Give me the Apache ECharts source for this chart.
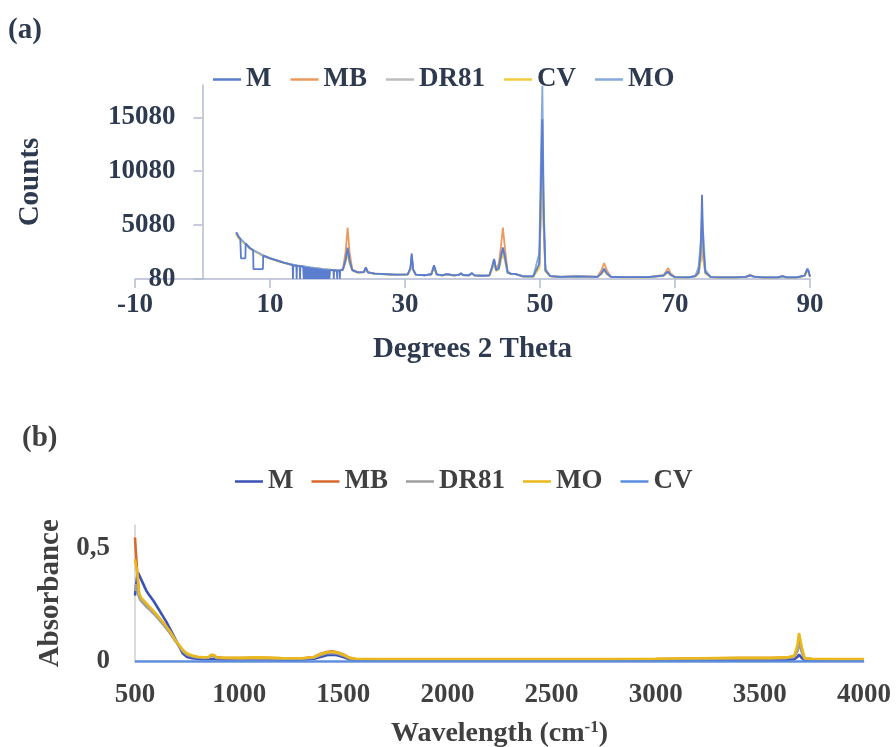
<!DOCTYPE html>
<html><head><meta charset="utf-8">
<script src="https://cdn.jsdelivr.net/npm/echarts@6/dist/echarts.min.js"></script>
<style>html,body{margin:0;padding:0;background:#fff}#c{width:896px;height:747px}</style>
</head><body><div id="c"></div>
<script>
// ---------- (a) XRD ----------
const xrdNames = ['M', 'MB', 'DR81', 'CV', 'MO'];
const theta = [5,5.3,5.6,6.45,7,7.5,9,10,11,12,13,14,15,16,17,18,19,20,
  20.8,21.2,21.5,21.8,22.2,23,23.9,24.2,24.5,25.5,
  27,28.5,30.4,30.8,31,31.2,31.6,33,33.9,34.3,
  34.7,35.5,36.2,37.2,38,38.3,38.6,39.5,39.9,40.3,
  41.5,42.5,42.9,43.2,43.5,43.9,44.2,44.5,44.8,45.2,
  45.7,46.3,47.5,49,49.9,50.15,50.35,50.55,50.8,51.5,
  53,55.5,57,58.5,59.1,59.5,59.9,60.5,62,64,
  66,68.3,68.7,69,69.3,70,72,73,73.5,73.8,
  74,74.2,74.5,75.3,77,79,80.5,81.1,81.7,83,
  85.3,85.9,86.5,88,89.2,89.6,89.8,90];
const countsM = [4400,4050,3800,3300,2950,2750,2250,2000,1800,1600,1440,1320,1230,1140,1060,980,920,860,
  950,1900,3000,1800,900,700,720,1150,700,580,
  530,480,500,1100,2450,1000,480,430,520,1350,
  500,420,540,420,470,620,450,430,630,420,
  380,420,1200,1950,900,1100,2200,3000,2200,700,
  550,560,330,320,1500,9000,14900,6000,900,350,
  280,320,300,280,600,1000,600,290,260,250,
  250,400,650,740,500,250,240,350,700,2500,
  7900,3000,700,260,240,240,280,420,300,230,
  240,340,240,230,400,1000,800,300];
const countsMB = [4350,4000,3780,3280,2960,2770,2270,2020,1820,1620,1460,1340,1250,1160,1080,1000,940,880,
  1000,2600,4850,2500,950,720,730,1100,720,590,
  540,490,500,1000,2200,950,490,440,520,1250,
  510,430,530,430,470,580,450,440,600,430,
  390,430,1100,1800,1000,1500,3000,4850,3000,800,
  560,560,340,330,1300,7000,11000,5000,800,360,
  290,330,310,290,900,1560,900,300,270,260,
  260,450,800,1100,650,260,250,340,600,1800,
  2800,1800,600,270,250,250,300,460,320,240,
  250,360,250,240,380,900,700,300];
const countsDR81 = [4300,3950,3750,3250,2920,2720,2230,1980,1780,1590,1430,1310,1220,1130,1050,970,910,850,
  930,1700,2600,1600,880,690,710,1000,690,570,
  520,470,490,950,2000,900,470,420,510,1150,
  490,410,520,410,460,560,440,420,580,410,
  370,410,1000,1700,850,1000,1900,2600,1900,680,
  540,540,320,310,1200,7500,12000,5000,800,340,
  270,310,290,270,560,900,560,280,250,240,
  240,380,600,680,480,240,230,330,600,2000,
  6000,2500,650,250,230,230,270,400,290,220,
  230,320,230,220,380,900,700,290];
const countsCV = [4250,3900,3700,3220,2900,2700,2210,1960,1760,1570,1420,1300,1210,1120,1040,960,900,840,
  920,1600,2400,1500,860,680,700,950,680,560,
  510,460,480,900,1900,880,460,410,500,1100,
  480,400,510,400,450,540,430,410,560,400,
  360,400,950,1600,820,950,1800,2400,1800,660,
  530,530,310,300,1100,7000,11500,4800,780,330,
  260,300,280,260,540,850,540,270,240,230,
  230,370,580,650,460,230,220,320,580,1900,
  5500,2300,620,240,220,220,260,390,280,210,
  220,310,220,210,370,850,680,280];
const countsMO = [4420,4070,3820,3310,2960,2760,2260,2010,1810,1610,1450,1330,1240,1150,1070,990,930,870,
  940,1800,2800,1700,890,700,720,1100,700,580,
  530,480,500,1050,2300,980,480,430,520,1300,
  500,420,540,420,470,600,450,430,610,420,
  380,420,1150,1900,880,1050,2100,2800,2100,700,
  550,560,330,320,2500,12000,18000,7000,1000,350,
  280,320,300,280,620,1050,620,290,260,250,
  250,410,660,760,510,250,240,350,1200,3500,
  4700,4200,900,260,240,240,280,430,300,230,
  240,350,240,230,420,1050,820,300];
// dropouts in the M pattern as [2theta, counts]
const mDrops = [[5.65,3800],[5.7,2000],[6.35,2000],[6.4,3400],
  [7.55,1000],[8.95,1000],
  [13.35,1350],[13.4,80],[13.45,1345],
  [13.9,1330],[13.95,80],[14.0,1320],
  [14.4,1280],[14.45,80],[14.5,1275],
  [14.9,1240],[15.0,80],[15.1,1220],[15.2,80],[15.3,1210],[15.4,80],[15.5,1190],[15.6,80],
  [15.7,1170],[15.8,80],[15.9,1150],[16.0,80],[16.1,1130],[16.2,80],[16.3,1120],[16.4,80],
  [16.5,1100],[16.6,80],[16.7,1090],[16.8,80],[16.9,1070],[17.0,80],[17.1,1050],[17.2,80],
  [17.3,1040],[17.4,80],[17.5,1020],[17.6,80],[17.7,1010],[17.8,80],[17.9,990],[18.0,80],
  [18.1,975],[18.2,80],[18.3,965],[18.4,80],[18.5,950],[18.6,80],[18.7,940],[18.8,80],[18.9,930],
  [19.4,895],[19.45,80],[19.5,890],
  [19.9,865],[19.95,80],[20.0,862],
  [20.3,850],[20.35,80],[20.4,848]];

// ---------- (b) FTIR ----------
const ftirNames = ['M', 'MB', 'DR81', 'MO', 'CV'];
const wn = [500,505,510,515,520,530,540,555,570,590,
  610,630,650,670,690,710,730,750,775,800,
  830,855,865,872,880,890,920,1000,1100,1200,
  1300,1360,1390,1420,1445,1470,1500,1530,1560,1650,
  1800,2000,2200,2500,2800,3000,3200,3400,3550,3630,
  3665,3680,3688,3694,3702,3715,3750,3850,4000];
const absM = [0.29,0.33,0.37,0.39,0.39,0.36,0.34,0.31,0.29,0.265,
  0.235,0.205,0.175,0.14,0.105,0.07,0.035,0.02,0.014,0.012,
  0.01,0.01,0.011,0.014,0.011,0.01,0.009,0.009,0.01,0.008,
  0.008,0.012,0.02,0.028,0.03,0.028,0.02,0.01,0.006,0.005,
  0.005,0.005,0.005,0.005,0.005,0.005,0.006,0.007,0.007,0.008,
  0.01,0.02,0.03,0.03,0.015,0.006,0.005,0.005,0.005];
const absMB = [0.545,0.47,0.40,0.34,0.29,0.275,0.265,0.25,0.235,0.215,
  0.195,0.173,0.15,0.125,0.097,0.072,0.047,0.032,0.024,0.02,
  0.018,0.019,0.027,0.034,0.026,0.018,0.016,0.015,0.016,0.014,
  0.013,0.02,0.033,0.042,0.045,0.041,0.031,0.016,0.011,0.01,
  0.01,0.01,0.01,0.01,0.01,0.011,0.013,0.015,0.015,0.017,
  0.022,0.05,0.09,0.095,0.045,0.013,0.011,0.01,0.01];
const absDR81 = [0.31,0.34,0.32,0.3,0.28,0.265,0.255,0.24,0.228,0.21,
  0.19,0.168,0.146,0.122,0.095,0.07,0.045,0.03,0.022,0.018,
  0.016,0.017,0.024,0.03,0.023,0.016,0.014,0.013,0.014,0.012,
  0.012,0.017,0.028,0.036,0.038,0.035,0.026,0.014,0.01,0.009,
  0.009,0.009,0.009,0.009,0.009,0.01,0.011,0.013,0.013,0.015,
  0.02,0.045,0.08,0.085,0.04,0.012,0.01,0.009,0.009];
const absMO = [0.45,0.42,0.40,0.35,0.30,0.28,0.27,0.255,0.24,0.22,
  0.2,0.178,0.155,0.13,0.1,0.075,0.05,0.035,0.026,0.021,
  0.019,0.02,0.03,0.038,0.028,0.019,0.017,0.016,0.018,0.015,
  0.014,0.02,0.032,0.041,0.043,0.04,0.03,0.016,0.012,0.011,
  0.011,0.011,0.011,0.011,0.011,0.012,0.014,0.016,0.016,0.018,
  0.025,0.07,0.125,0.13,0.06,0.015,0.012,0.011,0.011];
const absCV = [0,0,0,0,0,0,0,0,0,0,
  0,0,0,0,0,0,0,0,0,0,
  0,0,0,0,0,0,0,0,0,0,
  0,0,0,0,0,0,0,0,0,0,
  0,0,0,0,0,0,0,0,0,0,
  0,0,0,0,0,0,0,0,0];

// ---------- styles ----------
const serif = "'Liberation Serif', 'Times New Roman', serif";
const inkA = '#2e3a50', inkB = '#404040';
const colorsA = {M:'#5a7dcf', MB:'#eb9a5e', DR81:'#bdbdbd', CV:'#f2cc3c', MO:'#86a9de'};
const colorsB = {M:'#3b52b6', MB:'#d8682c', DR81:'#9e9e9e', MO:'#e9b81c', CV:'#5b8de0'};

const pair = (xs, ys) => xs.map((x, i) => [x, ys[i]]);
const mData = pair(theta, countsM).concat(mDrops).sort((a, b) => a[0] - b[0]);
const xrdData = {M: mData, MB: pair(theta, countsMB), DR81: pair(theta, countsDR81), CV: pair(theta, countsCV), MO: pair(theta, countsMO)};
const ftirData = {M: pair(wn, absM), MB: pair(wn, absMB), DR81: pair(wn, absDR81), MO: pair(wn, absMO), CV: pair(wn, absCV)};

const txt = (color, size) => ({color: color, fontFamily: serif, fontWeight: 'bold', fontSize: size});
const plain = v => String(v);

const series = [];
xrdNames.forEach(n => series.push({
  name: n, type: 'line', xAxisIndex: 0, yAxisIndex: 0, data: xrdData[n],
  symbol: 'none', z: n === 'M' ? 4 : 2,
  lineStyle: {color: colorsA[n], width: 1.8}, itemStyle: {color: colorsA[n]}
}));
ftirNames.forEach(n => series.push({
  name: n, type: 'line', xAxisIndex: 1, yAxisIndex: 1, data: ftirData[n],
  symbol: 'none',
  lineStyle: {color: colorsB[n], width: 2.6}, itemStyle: {color: colorsB[n]}
}));

const chart = echarts.init(document.getElementById('c'), null, {renderer: 'canvas'});
chart.setOption({
  animation: false,
  backgroundColor: '#ffffff',
  graphic: [
    {type: 'text', left: 8, top: 16, style: {text: '(a)', fill: inkA, font: 'bold 29px ' + serif}},
    {type: 'text', left: 22, top: 424, style: {text: '(b)', fill: inkB, font: 'bold 29px ' + serif}}
  ],
  legend: [
    {left: 213, top: 66, padding: 0, icon: 'rect', itemWidth: 28, itemHeight: 2.5, itemGap: 19,
     textStyle: txt(inkA, 27),
     data: xrdNames.map(n => ({name: n, itemStyle: {color: colorsA[n]}}))},
    {left: 235, top: 468, padding: 0, icon: 'rect', itemWidth: 28, itemHeight: 2.5, itemGap: 18,
     textStyle: txt(inkB, 27),
     data: ftirNames.map(n => ({name: n, itemStyle: {color: colorsB[n]}}))}
  ],
  grid: [
    {left: 135, right: 86, top: 85, bottom: 468, outerBoundsMode: 'none', containLabel: false},
    {left: 135, right: 32, top: 525, bottom: 85.5, outerBoundsMode: 'none', containLabel: false}
  ],
  xAxis: [
    {gridIndex: 0, type: 'value', min: -10, max: 90, interval: 20,
     axisLine: {onZero: false, lineStyle: {color: '#b4bcd2', width: 1.5}},
     axisTick: {show: true, length: 9, lineStyle: {color: '#b4bcd2', width: 1.5}},
     splitLine: {show: false},
     axisLabel: Object.assign({margin: 13, formatter: plain}, txt(inkA, 27)),
     name: 'Degrees 2 Theta', nameLocation: 'middle', nameGap: 56, nameTextStyle: txt(inkA, 29)},
    {gridIndex: 1, type: 'value', min: 500, max: 4000, interval: 500,
     axisLine: {onZero: false, lineStyle: {color: '#cfcfcf', width: 1.5}},
     axisTick: {show: false}, splitLine: {show: false},
     axisLabel: Object.assign({margin: 20, formatter: plain}, txt(inkB, 27)),
     name: 'Wavelength (cm{sup|-1})', nameLocation: 'middle', nameGap: 58,
     nameTextStyle: Object.assign({rich: {sup: {fontFamily: serif, fontWeight: 'bold', fontSize: 17, color: inkB, verticalAlign: 'top', padding: [0, 0, 12, 0]}}}, txt(inkB, 28))}
  ],
  yAxis: [
    {gridIndex: 0, type: 'value', min: 80, max: 18080, interval: 5000,
     offset: -67.5,
     axisLine: {show: true, onZero: false, lineStyle: {color: '#b4bcd2', width: 1.5}},
     axisTick: {show: true, length: 9, lineStyle: {color: '#b4bcd2', width: 1.5}},
     splitLine: {show: false},
     axisLabel: Object.assign({margin: 27, showMaxLabel: false, formatter: plain}, txt(inkA, 27)),
     name: 'Counts', nameLocation: 'middle', nameGap: 157, nameTextStyle: txt(inkA, 29)},
    {gridIndex: 1, type: 'value', min: 0, max: 0.6, interval: 0.5,
     axisLine: {show: true, onZero: false, lineStyle: {color: '#cfcfcf', width: 1.5}},
     axisTick: {show: false}, splitLine: {show: false},
     axisLabel: Object.assign({margin: 25, showMaxLabel: false,
       formatter: v => String(v).replace('.', ',')}, txt(inkB, 27)),
     name: 'Absorbance', nameLocation: 'middle', nameGap: 67, nameTextStyle: txt(inkB, 29)}
  ],
  series: series
});
</script>
</body></html>
